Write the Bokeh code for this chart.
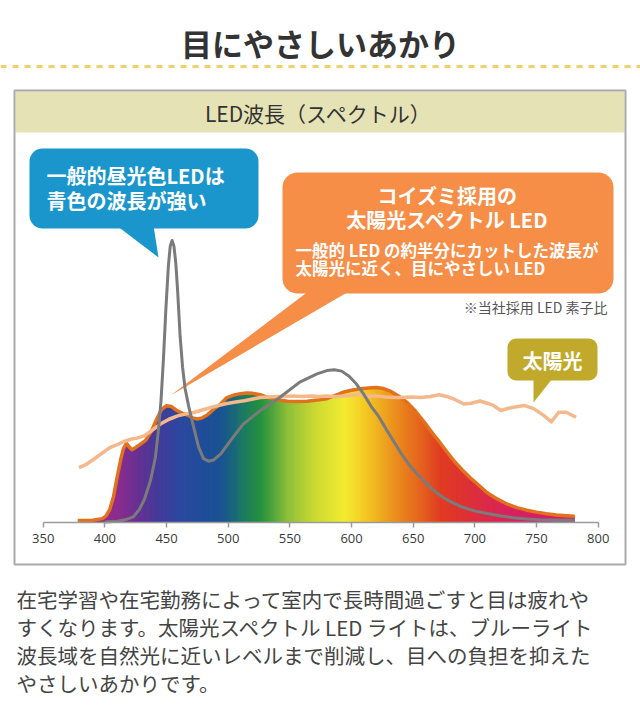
import numpy as np
from bokeh.plotting import figure
from bokeh.models import Range1d, LinearAxis, FixedTicker, Label
from bokeh.embed import file_html
from bokeh.resources import INLINE

# ---------------- data ----------------
# Koizumi "sunlight spectrum" LED (filled, orange outline)
wl_koizumi = [378, 390, 398, 401, 404, 407, 410, 413, 415, 417.5, 420, 422, 425, 428, 433,
              438, 442, 446, 450, 454, 458, 463, 467, 471, 475, 479, 483, 488, 494, 499,
              504, 510, 515, 520, 526, 532, 540, 548, 556, 564, 572, 580, 587, 594, 600,
              607, 614, 620, 626, 632, 638, 645, 651, 656, 661, 666, 672, 678, 684, 690,
              696, 702, 710, 718, 726, 734, 742, 750, 758, 766, 774, 781]
val_koizumi = [0.5, 0.6, 1.2, 2.2, 4.5, 9, 16, 22.5, 26, 28, 26.5, 25.7, 26.5, 27.4, 29,
               32.5, 36.5, 40, 41.3, 41, 39.7, 38.6, 38, 37, 36.6, 37, 38, 40, 42, 44.2,
               45, 45.6, 45.8, 45.7, 45.2, 44.3, 43.4, 42.9, 42.8, 42.9, 43.3, 43.8, 45, 46.2, 46.8,
               47.3, 47.6, 47.8, 47.4, 46.4, 44.8, 42.5, 39.8, 37.1, 34.3, 31.3, 28, 24.5, 21.2, 18.4,
               15.8, 13.5, 10.4, 8.2, 6.4, 5.1, 4.2, 3.5, 2.9, 2.5, 2.2, 2.0]

# general daylight LED (grey line)
wl_general = [400, 410, 418, 423, 428, 432, 437, 441, 443.5, 445.5, 447.5, 449.5, 451.5, 453,
              454.5, 456, 457.5, 459, 461, 463, 465, 468, 472, 476, 480, 484, 488, 494, 502,
              512, 526, 542, 558, 572, 580, 586, 592, 598, 604, 610, 616, 622, 628, 634, 640,
              646, 652, 658, 664, 670, 676, 682, 688, 694, 702, 710, 720, 731, 742, 753, 765, 781]
val_general = [0, 0.3, 1, 1.8, 4.5, 8, 14.7, 23, 33, 43, 58, 76, 91, 98,
               100, 98, 92, 82, 66, 55, 47.5, 41, 33.7, 26.6, 22.5, 21.6, 22, 24.2, 29,
               34.7, 39.6, 44.3, 49.7, 52.6, 53.8, 54.1, 53.6, 51.8, 49, 45.3, 41, 37.5, 33, 28.8, 24.5,
               20.8, 17.6, 14.9, 12.3, 10, 8.3, 6.8, 5.6, 4.7, 3.7, 3, 2.2, 1.5, 1.1, 0.8, 0.7, 0.6]

# sunlight (peach line)
wl_sun = [379, 385, 391, 398, 404, 410, 415, 421, 426, 432, 438, 445, 452, 459, 466, 472, 479,
          486, 492, 499, 506, 513, 520, 526, 533, 540, 547, 553, 560, 567, 574, 580, 587, 594,
          600, 607, 613, 620, 627, 634, 640, 648, 656, 664, 671, 677, 683, 687, 691, 697, 704,
          710, 715, 721, 729, 740, 748, 756, 762, 768, 774, 782]
val_sun = [19.3, 20.5, 22.3, 24.5, 26.4, 27.5, 28.5, 29.4, 29.8, 30.6, 32.5, 34.8, 36.5, 37.7, 38.4, 38.9, 39.8,
           40.7, 41.4, 42.1, 42.6, 43.1, 43.7, 44.2, 44.4, 44.6, 44.7, 44.8, 44.6, 44.8, 44.6, 44.8, 44.5, 44.8,
           45.0, 45.4, 44.8, 44.8, 44.4, 44.2, 44.2, 44.4, 44.2, 44.6, 45.2, 44.6, 43.7, 42.8, 41.9, 42.2, 43,
           42.2, 41.4, 39.6, 40.6, 41.4, 40.2, 37.8, 35.6, 39, 39, 37.2]

tick_nm = [350, 400, 450, 500, 550, 600, 650, 700, 750, 800]

# visible-spectrum colour stops for the gradient fill
stop_nm = [380, 410, 425, 442, 460, 480, 494, 505, 512, 526, 538, 548, 569, 594,
           606, 615, 637, 658, 672, 690, 705, 731, 758, 781]
stop_color = ["#8e2a8c", "#8e2c8e", "#6a3092", "#443a98", "#2d47a0", "#1f4e9a", "#1a5292",
              "#1a6878", "#1b7a62", "#23913f", "#5aa83a", "#8cc038", "#c8d832", "#f2ec30",
              "#f4d428", "#f2c020", "#ea8a1e", "#e45e1e", "#e03c22", "#de3232", "#dc2c44",
              "#d82060", "#d81c6c", "#d81c70"]

title_text = "目にやさしいあかり"
header_text = "LED波長（スペクトル）"
blue_lines = ["一般的昼光色LEDは", "青色の波長が強い"]
orange_big = ["コイズミ採用の", "太陽光スペクトル LED"]
orange_small = ["一般的 LED の約半分にカットした波長が", "太陽光に近く、目にやさしい LED"]
note_text = "※当社採用 LED 素子比"
sun_label = "太陽光"
para_lines = ["在宅学習や在宅勤務によって室内で長時間過ごすと目は疲れや",
              "すくなります。太陽光スペクトル LED ライトは、ブルーライト",
              "波長域を自然光に近いレベルまで削減し、目への負担を抑えた",
              "やさしいあかりです。"]

# ---------------- geometry helpers ----------------
W, H = 640, 722
X350 = 42.7
PX_NM = 61.67 / 50.0
Y0 = 521.5
PX_U = 2.815


def nx(px):
    return 350 + (px - X350) / PX_NM


def vy(py):
    return (Y0 - py) / PX_U


def rrect(x0, y0, x1, y1, r, n=10):
    pts = []
    corners = [(x1 - r, y0 + r, -90, 0), (x1 - r, y1 - r, 0, 90),
               (x0 + r, y1 - r, 90, 180), (x0 + r, y0 + r, 180, 270)]
    for cx, cy, a0, a1 in corners:
        for a in np.linspace(np.radians(a0), np.radians(a1), n):
            pts.append((cx + r * np.cos(a), cy + r * np.sin(a)))
    return [nx(q[0]) for q in pts], [vy(q[1]) for q in pts]


def tri(pts):
    return [nx(q[0]) for q in pts], [vy(q[1]) for q in pts]


p = figure(width=W, height=H,
           x_range=Range1d(nx(0), nx(W)),
           y_range=Range1d(vy(H), vy(0)),
           output_backend="svg", toolbar_location=None,
           x_axis_location=None, y_axis_location=None,
           min_border=0, outline_line_color=None,
           background_fill_color="white", border_fill_color="white")
p.xgrid.visible = False
p.ygrid.visible = False

JP = "Noto Sans CJK JP"

# dotted yellow rule under the title
p.line([nx(0), nx(W)], [vy(66), vy(66)], line_color="#f2cf6e",
       line_width=3, line_dash="6 6")

# box + header band
p.quad(left=nx(15), right=nx(624), top=vy(91), bottom=vy(132),
       fill_color="#e5e3b5", line_color=None)
p.quad(left=nx(14), right=nx(625), top=vy(90), bottom=vy(564),
       fill_color=None, line_color="#aaaaaa", line_width=2)

# gradient fill under the Koizumi curve: colour stripes, masked above the curve
stop_rgb = np.array([[int(c[i:i + 2], 16) for i in (1, 3, 5)] for c in stop_color], dtype=float)
strip_left = np.arange(wl_koizumi[0] + 1, wl_koizumi[-1], 1.0)
strip_right = np.minimum(strip_left + 1.7, wl_koizumi[-1])
strip_mid = strip_left + 0.5
strip_cols = []
for m in strip_mid:
    r = np.interp(m, stop_nm, stop_rgb[:, 0])
    g = np.interp(m, stop_nm, stop_rgb[:, 1])
    b = np.interp(m, stop_nm, stop_rgb[:, 2])
    strip_cols.append("#%02x%02x%02x" % (int(round(r)), int(round(g)), int(round(b))))
top_fill = max(val_koizumi) + 2
p.quad(left=strip_left, right=strip_right, bottom=0, top=top_fill,
       fill_color=strip_cols, line_color=None)
mask_x = list(wl_koizumi) + [wl_koizumi[-1] + 3, wl_koizumi[-1] + 3, wl_koizumi[0] - 3, wl_koizumi[0] - 3]
mask_y = list(val_koizumi) + [val_koizumi[-1], top_fill + 3, top_fill + 3, val_koizumi[0]]
p.patch(mask_x, mask_y, fill_color="white", line_color=None)

# Koizumi outline
p.line(wl_koizumi, val_koizumi, line_color="#e2711d", line_width=3.5, line_join="round")
# sunlight
p.line(wl_sun, val_sun, line_color="#f4b88d", line_width=3.5, line_join="round")

# callouts
bx, byy = rrect(29, 148, 258, 228, 13)
p.patch(bx, byy, fill_color="#1b96cc", line_color=None)
tx, ty = tri([(116, 225), (153, 225), (158, 257)])
p.patch(tx, ty, fill_color="#1b96cc", line_color=None)

ox, oy = rrect(282, 172, 613, 293, 15)
p.patch(ox, oy, fill_color="#f68e47", line_color=None)
tx, ty = tri([(309, 290), (350, 290), (170, 395)])
p.patch(tx, ty, fill_color="#f68e47", line_color=None)

sx, sy = rrect(507, 338, 597, 380, 9)
p.patch(sx, sy, fill_color="#c1a92b", line_color=None)
tx, ty = tri([(533, 378), (552, 378), (533, 402)])
p.patch(tx, ty, fill_color="#c1a92b", line_color=None)

# general LED line on top
p.line(wl_general, val_general, line_color="#7b7b7b", line_width=3, line_join="round")

# x axis at intensity 0
ax = LinearAxis(fixed_location=0, ticker=FixedTicker(ticks=tick_nm), bounds=(350, 800))
ax.axis_line_color = "#9a9a9a"
ax.axis_line_width = 1.5
ax.major_tick_line_color = "#9a9a9a"
ax.major_tick_line_width = 1.5
ax.major_tick_in = 0
ax.major_tick_out = 5
ax.minor_tick_line_color = None
ax.major_label_text_font = "Open Sans"
ax.major_label_text_font_size = "13px"
ax.major_label_text_color = "#3a3a3a"
ax.major_label_standoff = 7
p.add_layout(ax, "below")


def lab(px, py, text, size, color, align="left", style="normal", font=JP):
    p.add_layout(Label(x=nx(px), y=vy(py), text=text, text_font=font,
                       text_font_size=size, text_color=color, text_align=align,
                       text_baseline="middle", text_font_style=style))


lab(320, 42, title_text, "31px", "#333333", "center", "bold")
lab(318, 112, header_text, "21px", "#333333", "center")
lab(46, 175, blue_lines[0], "20px", "white", "left", "bold")
lab(46, 200, blue_lines[1], "20px", "white", "left", "bold")
lab(447, 195, orange_big[0], "20px", "white", "center", "bold")
lab(447, 219, orange_big[1], "20px", "white", "center", "bold")
lab(295, 249, orange_small[0], "16.5px", "white", "left", "bold")
lab(295, 267, orange_small[1], "16.5px", "white", "left", "bold")
lab(607, 306, note_text, "14px", "#555555", "right")
lab(552, 360, sun_label, "20px", "white", "center", "bold")
for i, line in enumerate(para_lines):
    lab(16, 598 + i * 28, line, "20.5px", "#444444", "left")

open("out.html", "w").write(file_html(p, INLINE))
